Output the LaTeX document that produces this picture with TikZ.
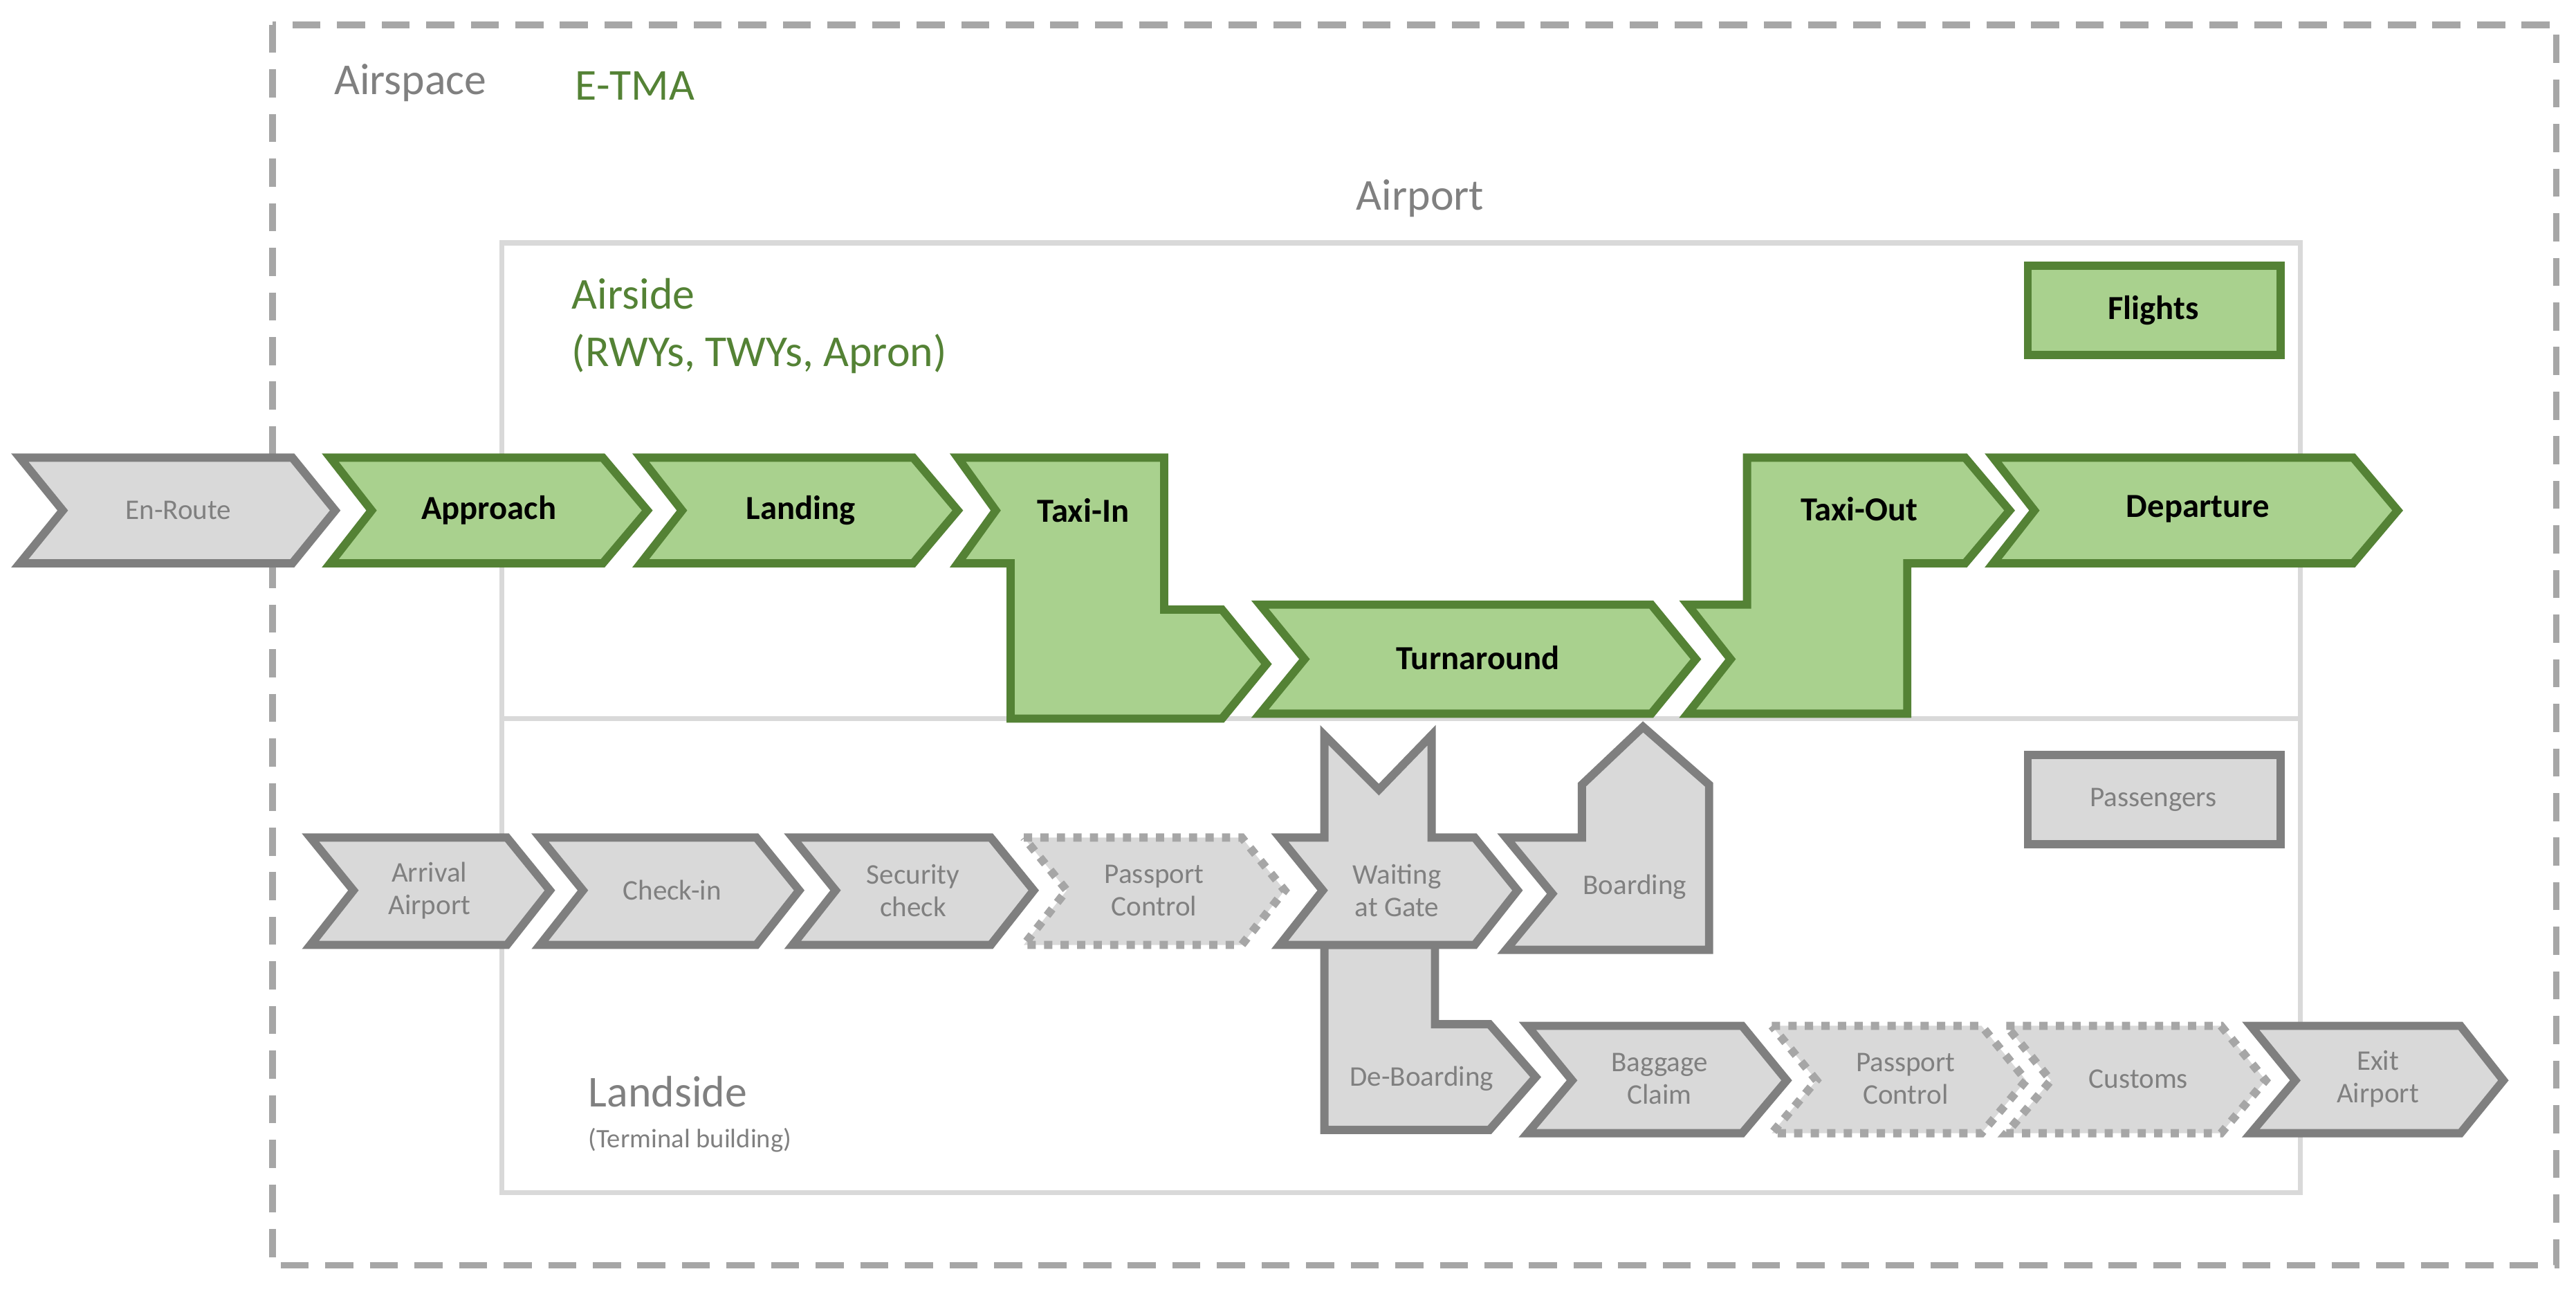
\documentclass[tikz,border=0pt]{standalone}
\usepackage{fontspec}
\setmainfont{Carlito}
\definecolor{gfill}{HTML}{A9D18E}
\definecolor{gline}{HTML}{548235}
\definecolor{pfill}{HTML}{D9D9D9}
\definecolor{pline}{HTML}{7F7F7F}
\definecolor{ptext}{HTML}{808080}
\definecolor{frame}{HTML}{A6A6A6}
\begin{document}
\begin{tikzpicture}[x=0.1mm,y=-0.1mm,
  fl/.style={fill=gfill,draw=gline,line width=0.5mm,line join=miter},
  ps/.style={fill=pfill,draw=pline,line width=0.5mm,line join=miter},
  pd/.style={fill=pfill,draw=frame,line width=0.5mm,dash pattern=on 0.5mm off 0.5mm},
  ft/.style={font=\bfseries\fontsize{5.8}{6.5}\selectfont,text=black},
  pt/.style={font=\fontsize{4.9}{5.6}\selectfont,text=ptext,align=center},
  ht/.style={font=\fontsize{7.6}{8.6}\selectfont,anchor=west}]
\useasboundingbox (0,0) rectangle (1560,783);
% frames
\draw[frame,line width=0.4mm,dash pattern=on 1.7mm off 1mm] (165,15) rectangle (1548,766);
\draw[pfill,line width=0.3mm] (304,147) rectangle (1393,722);
\draw[pfill,line width=0.3mm] (304,435) -- (1393,435);
\node[ht,text=ptext] (airspace) at (190,50) {Airspace};
\node[ht,text=gline] (etma) at (336,52) {E-TMA};
\node[font=\fontsize{7.6}{8.6}\selectfont,text=ptext] (airport) at (860,120) {Airport};
\node[ht,text=gline] (airside) at (334,178) {Airside};
\node[ht,text=gline] (rwy) at (334,214) {(RWYs, TWYs, Apron)};
\node[ht,text=ptext] (landside) at (344,661) {Landside};
\node[anchor=west,font=\fontsize{4.6}{5}\selectfont,text=ptext] (term) at (344,690) {(Terminal building)};
% legend
\draw[fl] (1228,161) rectangle (1381,215);
\node[ft] (flights) at (1304,188) {Flights};
\draw[ps] (1228,457) rectangle (1381,511);
\node[pt] (pax) at (1304,484) {Passengers};
% flights row
\draw[ps] (12,277)--(177,277)--(203,309)--(177,341)--(12,341)--(38,309)--cycle;
\node[pt] (enroute) at (108,309) {En-Route};
\draw[fl] (200,277)--(365,277)--(392,309)--(365,341)--(200,341)--(225,309)--cycle;
\node[ft] (approach) at (296,309) {Approach};
\draw[fl] (388,277)--(553,277)--(580,309)--(553,341)--(388,341)--(413,309)--cycle;
\node[ft] (landing) at (485,309) {Landing};
\draw[fl] (580,277)--(705,277)--(705,369)--(740,369)--(767,402)--(740,435)--(612,435)--(612,341)--(580,341)--(603,309)--cycle;
\node[ft] (taxiin) at (656,309) {Taxi-In};
\draw[fl] (763,366)--(1000,366)--(1027,399)--(1000,432)--(763,432)--(790,399)--cycle;
\node[ft] (turn) at (895,398) {Turnaround};
\draw[fl] (1022,366)--(1058,366)--(1058,277)--(1190,277)--(1217,309)--(1190,341)--(1155,341)--(1155,432)--(1022,432)--(1048,399)--cycle;
\node[ft] (taxiout) at (1126,308) {Taxi-Out};
\draw[fl] (1207,277)--(1425,277)--(1452,309)--(1425,341)--(1207,341)--(1232,309)--cycle;
\node[ft] (dep) at (1331,308) {Departure};
% passenger row
\draw[ps] (188,507)--(307,507)--(333,539)--(307,572)--(188,572)--(214,539)--cycle;
\node[pt] (arr) at (260,539) {Arrival\\Airport};
\draw[ps] (327,507)--(458,507)--(484,539)--(458,572)--(327,572)--(353,539)--cycle;
\node[pt] (checkin) at (407,539) {Check-in};
\draw[ps] (480,507)--(600,507)--(626,539)--(600,572)--(480,572)--(506,539)--cycle;
\node[pt] (sec) at (553,539) {Security\\check};
\draw[pd] (620,507)--(752,507)--(778,539)--(752,572)--(620,572)--(646,539)--cycle;
\node[pt] (pc1) at (699,539) {Passport\\Control};
\draw[ps] (802,572)--(869,572)--(869,620)--(902,620)--(930,652)--(902,684)--(802,684)--cycle;
\node[pt] (deb) at (861,653) {De-Boarding};
\draw[ps] (775,507)--(802,507)--(802,445)--(835,478)--(867,445)--(867,507)--(893,507)--(919,539)--(893,572)--(775,572)--(801,539)--cycle;
\node[pt] (wait) at (846,539) {Waiting\\at Gate};
\draw[ps] (912,507)--(958,507)--(958,475)--(995,440)--(1035,475)--(1035,575)--(912,575)--(940,541)--cycle;
\node[pt] (board) at (990,537) {Boarding};
\draw[ps] (925,621)--(1055,621)--(1082,654)--(1055,686)--(925,686)--(952,654)--cycle;
\node[pt] (bag) at (1005,653) {Baggage\\Claim};
\draw[pd] (1073,621)--(1200,621)--(1227,654)--(1200,686)--(1073,686)--(1100,654)--cycle;
\node[pt] (pc2) at (1154,653) {Passport\\Control};
\draw[pd] (1215,621)--(1345,621)--(1372,654)--(1345,686)--(1215,686)--(1242,654)--cycle;
\node[pt] (cust) at (1295,653) {Customs};
\draw[ps] (1363,621)--(1490,621)--(1516,654)--(1490,686)--(1363,686)--(1390,654)--cycle;
\node[pt] (exit) at (1440,653) {Exit\\Airport};
\end{tikzpicture}
\end{document}
